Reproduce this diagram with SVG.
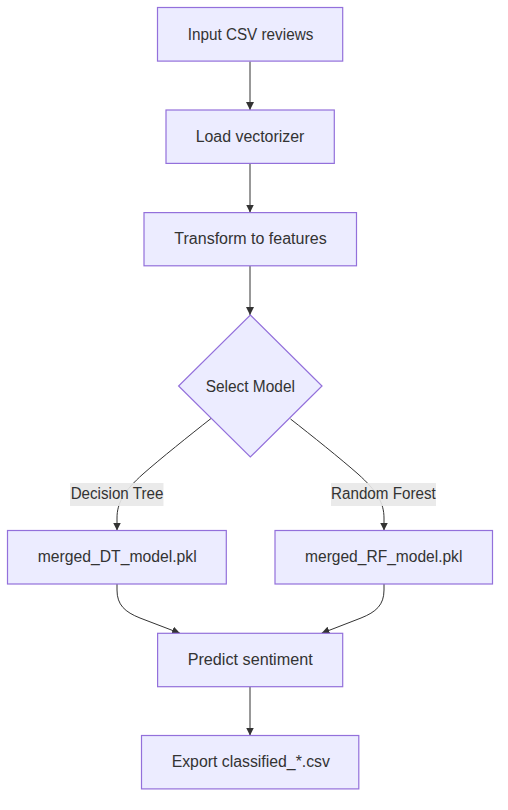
<svg xmlns="http://www.w3.org/2000/svg" width="508" height="810" viewBox="0 0 508 810">
<style>
.node rect, .node polygon { fill: #ECECFF; stroke: #9370DB; stroke-width: 1.2; }
.lbl { font-family: "Liberation Sans", Arial, sans-serif; font-size: 16px; fill: #333; text-anchor: middle; }
.edge { fill: none; stroke: #333; stroke-width: 1; marker-end: url(#arrow); }
.elbg { fill: #e8e8e8; fill-opacity: 0.9; }
</style>
<defs>
<marker id="arrow" viewBox="0 0 10 10" refX="10" refY="5" markerWidth="8" markerHeight="8" markerUnits="userSpaceOnUse" orient="auto">
<path d="M0,0 L10,5 L0,10 z" fill="#333"/>
</marker>
</defs>
<rect width="508" height="810" fill="#ffffff"/>
<g id="connectors">
<path class="edge" d="M250,61.5 L250,110"/>
<path class="edge" d="M250,163.5 L250,212.5"/>
<path class="edge" d="M250,266 L250,315"/>
<path class="edge" d="M211,418.5 C190,435 160,459 143,474 C124,491 117,503 117,518 L117,530.5"/>
<path class="edge" d="M290.5,419 C311,435 341,459 358,474 C377,491 384,503 384,518 L384,530.5"/>
<path class="edge" d="M117,584 L117,590 C117,605 125,612 140,618 L180,633.3"/>
<path class="edge" d="M384,584 L384,590 C384,605 376,612 361,618 L321.5,633.3"/>
<path class="edge" d="M250,686.7 L250,735.5"/>
<g id="label-dt">
<rect class="elbg" x="70" y="483" width="93.5" height="23"/>
<text class="lbl" x="117" y="499" textLength="92.7" lengthAdjust="spacingAndGlyphs">Decision Tree</text>
</g>
<g id="label-rf">
<rect class="elbg" x="331" y="483" width="105" height="23"/>
<text class="lbl" x="383.4" y="499" textLength="104.7" lengthAdjust="spacingAndGlyphs">Random Forest</text>
</g>
</g>
<g id="input" class="node">
<rect x="157.5" y="7.5" width="185.2" height="53.6"/>
<text class="lbl" x="250.5" y="39.5" textLength="125.6" lengthAdjust="spacingAndGlyphs">Input CSV reviews</text>
</g>
<g id="load" class="node">
<rect x="166" y="110" width="168.3" height="53.4"/>
<text class="lbl" x="250" y="141.6" textLength="108.7" lengthAdjust="spacingAndGlyphs">Load vectorizer</text>
</g>
<g id="transform" class="node">
<rect x="144" y="212.6" width="212.5" height="53.2"/>
<text class="lbl" x="250.5" y="243.6" textLength="152.3" lengthAdjust="spacingAndGlyphs">Transform to features</text>
</g>
<g id="select" class="node">
<polygon points="250.3,315 322,386 250.3,457 178.6,386"/>
<text class="lbl" x="250.3" y="392.2" textLength="89.3" lengthAdjust="spacingAndGlyphs">Select Model</text>
</g>
<g id="dt" class="node">
<rect x="7.5" y="530.5" width="218.8" height="53.5"/>
<text class="lbl" x="117.2" y="562.3" textLength="159" lengthAdjust="spacingAndGlyphs">merged_DT_model.pkl</text>
</g>
<g id="rf" class="node">
<rect x="275" y="530.5" width="217.5" height="53.5"/>
<text class="lbl" x="383.7" y="562.3" textLength="157.3" lengthAdjust="spacingAndGlyphs">merged_RF_model.pkl</text>
</g>
<g id="predict" class="node">
<rect x="157.6" y="633.3" width="185.1" height="53.4"/>
<text class="lbl" x="250.2" y="665" textLength="125" lengthAdjust="spacingAndGlyphs">Predict sentiment</text>
</g>
<g id="export" class="node">
<rect x="141.5" y="735.5" width="217.3" height="53.4"/>
<text class="lbl" x="250.8" y="766.8" textLength="158.3" lengthAdjust="spacingAndGlyphs">Export classified_*.csv</text>
</g>
</svg>
